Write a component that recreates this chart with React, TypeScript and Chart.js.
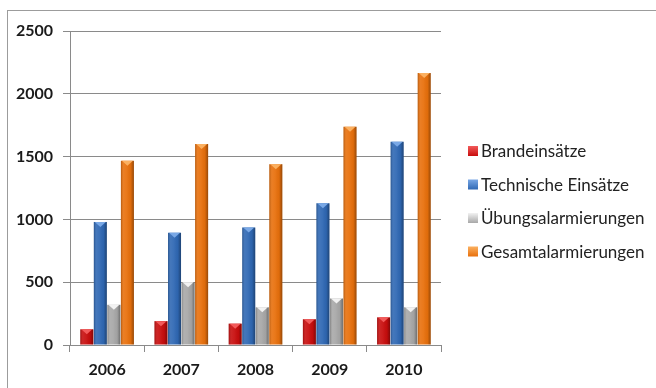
import React, { useEffect, useRef } from "react";
import { Chart, registerables } from "chart.js";

Chart.register(...registerables);

// Einsatzstatistik 2006–2010
const years = ["2006", "2007", "2008", "2009", "2010"];
const brandeinsaetze = [125, 190, 170, 205, 220];
const technischeEinsaetze = [980, 893, 935, 1128, 1618];
const uebungsalarmierungen = [320, 500, 300, 370, 300];
const gesamtalarmierungen = [1466, 1600, 1440, 1738, 2165];
const yTicks = [0, 500, 1000, 1500, 2000, 2500];

const seriesNames = [
  "Brandeinsätze",
  "Technische Einsätze",
  "Übungsalarmierungen",
  "Gesamtalarmierungen",
];
const baseColors = ["#C80D0D", "#2F68B4", "#A8A8A8", "#E8700C"];
const capColors = ["#F25A5A", "#79A8E6", "#F2F2F2", "#FBB060"];

const FONT = "Lato, 'Open Sans', sans-serif";

// Frame around the whole figure
const framePlugin = {
  id: "frame",
  beforeDraw(chart: any) {
    const ctx = chart.ctx;
    ctx.save();
    ctx.fillStyle = "#ffffff";
    ctx.fillRect(0, 0, chart.width, chart.height);
    ctx.strokeStyle = "#9c9c9c";
    ctx.lineWidth = 1;
    ctx.strokeRect(7.5, 10.5, chart.width + 20, chart.height + 20);
    ctx.restore();
  },
};

// Shading and bevel cap on each bar, giving the columns a rounded look
const bevelPlugin = {
  id: "bevel",
  afterDatasetsDraw(chart: any) {
    const ctx = chart.ctx;
    chart.data.datasets.forEach((ds: any, di: number) => {
      const meta = chart.getDatasetMeta(di);
      meta.data.forEach((bar: any) => {
        const { x, y, width, base } = bar.getProps(["x", "y", "width", "base"], true);
        const left = x - width / 2;
        const right = x + width / 2;
        ctx.save();
        const g = ctx.createLinearGradient(left, 0, right, 0);
        g.addColorStop(0, "rgba(0,0,0,0.22)");
        g.addColorStop(0.2, "rgba(255,255,255,0.10)");
        g.addColorStop(0.45, "rgba(255,255,255,0.06)");
        g.addColorStop(0.75, "rgba(0,0,0,0.04)");
        g.addColorStop(1, "rgba(0,0,0,0.35)");
        ctx.fillStyle = g;
        ctx.fillRect(left, y, width, base - y);
        // bevel cap
        const capH = Math.min(5, (base - y) / 2);
        ctx.fillStyle = capColors[di];
        ctx.beginPath();
        ctx.moveTo(left + 1, y);
        ctx.lineTo(right - 1, y);
        ctx.lineTo(x, y + capH);
        ctx.closePath();
        ctx.fill();
        ctx.restore();
      });
    });
  },
};

// Legend column to the right of the plot area
const sideLegendPlugin = {
  id: "sideLegend",
  afterDraw(chart: any) {
    const ctx = chart.ctx;
    const area = chart.chartArea;
    const boxX = area.right + 27;
    const startY = 151;
    const step = 33.5;
    ctx.save();
    ctx.font = `17px ${FONT}`;
    ctx.textBaseline = "middle";
    ctx.textAlign = "left";
    chart.data.datasets.forEach((ds: any, i: number) => {
      const cy = startY + i * step;
      const g = ctx.createLinearGradient(boxX, cy - 5, boxX, cy + 5);
      g.addColorStop(0, capColors[i]);
      g.addColorStop(1, baseColors[i]);
      ctx.fillStyle = g;
      ctx.fillRect(boxX, cy - 5, 10, 10);
      ctx.fillStyle = "#222222";
      ctx.fillText(ds.label, boxX + 13, cy + 1);
    });
    ctx.restore();
  },
};

export default function App() {
  const canvasRef = useRef<HTMLCanvasElement | null>(null);

  useEffect(() => {
    if (!canvasRef.current) return;
    const seriesValues = [brandeinsaetze, technischeEinsaetze, uebungsalarmierungen, gesamtalarmierungen];
    const chart = new Chart(canvasRef.current, {
      type: "bar",
      data: {
        labels: years,
        datasets: seriesValues.map((values, i) => ({
          label: seriesNames[i],
          data: values,
          backgroundColor: baseColors[i],
          borderWidth: 0,
          categoryPercentage: 0.73,
          barPercentage: 0.96,
        })),
      },
      options: {
        responsive: false,
        animation: false,
        devicePixelRatio: 1,
        layout: { padding: { left: 0, top: 31, right: 215, bottom: 0 } },
        plugins: {
          legend: { display: false },
          tooltip: { enabled: false },
        },
        scales: {
          x: {
            grid: {
              display: true,
              offset: true,
              drawOnChartArea: false,
              drawTicks: true,
              tickLength: 7,
              color: "#8a8a8a",
            },
            border: { display: true, color: "#8a8a8a" },
            ticks: {
              color: "#1a1a1a",
              padding: 8,
              font: { family: FONT, size: 16, weight: "bold" },
            },
            afterFit(scale: any) {
              scale.height = 43;
            },
          },
          y: {
            min: 0,
            max: 2500,
            afterBuildTicks(scale: any) {
              scale.ticks = yTicks.map((v) => ({ value: v }));
            },
            grid: {
              color: "#8a8a8a",
              drawTicks: true,
              tickLength: 7,
            },
            border: { display: true, color: "#8a8a8a" },
            ticks: {
              color: "#1a1a1a",
              padding: 10,
              font: { family: FONT, size: 16, weight: "bold" },
              callback: (value: any) => String(value),
            },
            afterFit(scale: any) {
              scale.width = 70;
            },
          },
        },
      },
      plugins: [framePlugin, bevelPlugin, sideLegendPlugin],
    });
    return () => chart.destroy();
  }, []);

  return (
    <div
      style={{
        position: "fixed",
        left: 0,
        top: 0,
        width: 656,
        height: 388,
        overflow: "hidden",
        background: "#ffffff",
      }}
    >
      <canvas ref={canvasRef} width={656} height={388} style={{ display: "block" }} />
    </div>
  );
}
